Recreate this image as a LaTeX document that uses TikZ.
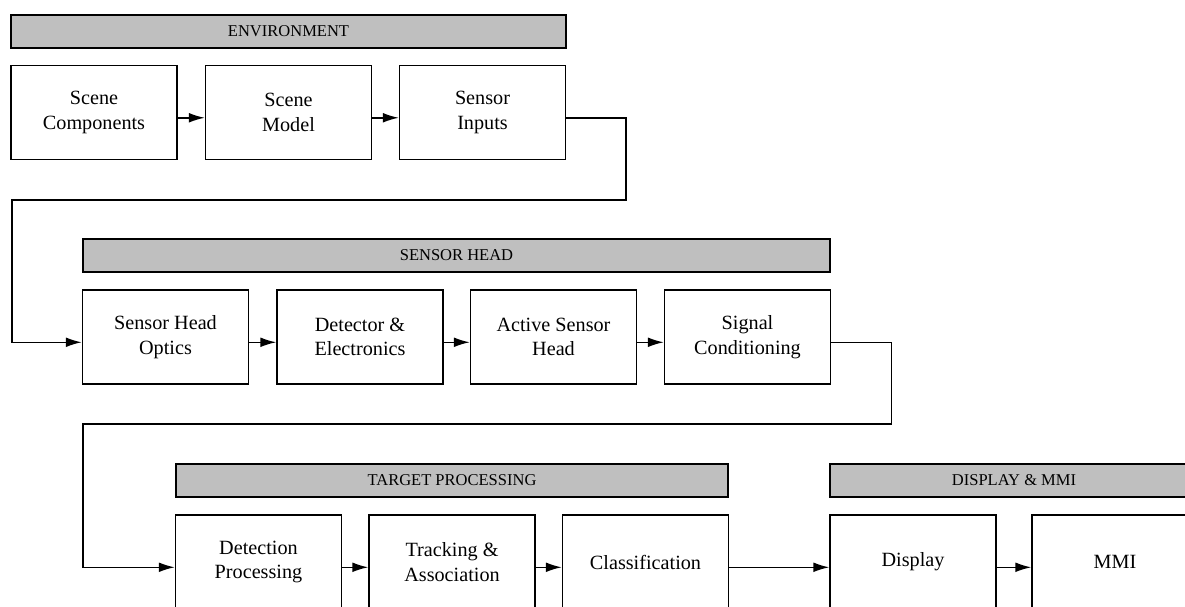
\documentclass[tikz,border=0pt]{standalone}
\usepackage{fontspec}
\setmainfont{Liberation Serif}
\usetikzlibrary{arrows.meta}

\tikzset{
  block/.style={draw, line width=0.85pt, minimum width=3.32cm, minimum height=1.88cm,
    inner sep=0pt, align=center, font=\fontsize{11.5}{14}\selectfont},
  banner/.style={draw, line width=0.85pt, fill=black!25, minimum height=0.66cm,
    inner sep=0pt, font=\fontsize{9.4}{11}\selectfont},
  link/.style={line width=0.85pt, -{Latex[length=9pt,width=5.5pt]}},
}

\begin{document}
\begin{tikzpicture}[x=0.02cm, y=-0.02cm]
				\useasboundingbox (0,0) rectangle (1185,606);
				\clip (0,0) rectangle (1185,606);
				
				% environment
				\node[banner, minimum width=11.1cm] (env) at (288.5,31.5) {ENVIRONMENT};
				\node[block] (sc) at (94,112.5) {Scene\\Components};
				\node[block] (sm) at (288.5,112.5) {Scene\\Model};
				\node[block] (si) at (482.5,112.5) {Sensor\\Inputs};
				\draw[link] ([yshift=-3pt]sc.east) -- ([yshift=-3pt]sm.west);
				\draw[link] ([yshift=-3pt]sm.east) -- ([yshift=-3pt]si.west);
				
				% sensor head
				\node[banner, minimum width=14.94cm] (shd) at (456.5,255.5) {SENSOR HEAD};
				\node[block] (sho) at (165.5,337) {Sensor Head\\Optics};
				\node[block] (de) at (360,337) {Detector \&\\Electronics};
				\node[block] (ash) at (553.5,337) {Active Sensor\\Head};
				\node[block] (sigc) at (747.5,337) {Signal\\Conditioning};
				\draw[link] ([yshift=-3pt]sho.east) -- ([yshift=-3pt]de.west);
				\draw[link] ([yshift=-3pt]de.east) -- ([yshift=-3pt]ash.west);
				\draw[link] ([yshift=-3pt]ash.east) -- ([yshift=-3pt]sigc.west);
				
				\coordinate (loopa) at (12,200);
				\draw[link] ([yshift=-3pt]si.east) -- ++(60,0) |- (loopa) |- ([yshift=-3pt]sho.west);
				
				% target processing
				\node[banner, minimum width=11.04cm] (tp) at (452,480.5) {TARGET PROCESSING};
				\node[block] (dp) at (258.5,562) {Detection\\Processing};
				\node[block] (ta) at (452,562) {Tracking \&\\Association};
				\node[block] (cls) at (645.5,562) {Classification};
				\draw[link] ([yshift=-3pt]dp.east) -- ([yshift=-3pt]ta.west);
				\draw[link] ([yshift=-3pt]ta.east) -- ([yshift=-3pt]cls.west);
				
				\coordinate (loopb) at (83,424);
				\draw[link] ([yshift=-3pt]sigc.east) -- ++(60,0) |- (loopb) |- ([yshift=-3pt]dp.west);
				
				% display & mmi
				\node[banner, minimum width=7.36cm] (dm) at (1014,480.5) {DISPLAY \& MMI};
				\node[block] (disp) at (913,562) {Display};
				\node[block] (mmi) at (1115,562) {MMI};
				\draw[link] ([yshift=-3pt]cls.east) -- ([yshift=-3pt]disp.west);
				\draw[link] ([yshift=-3pt]disp.east) -- ([yshift=-3pt]mmi.west);
			\end{tikzpicture}
\end{document}
